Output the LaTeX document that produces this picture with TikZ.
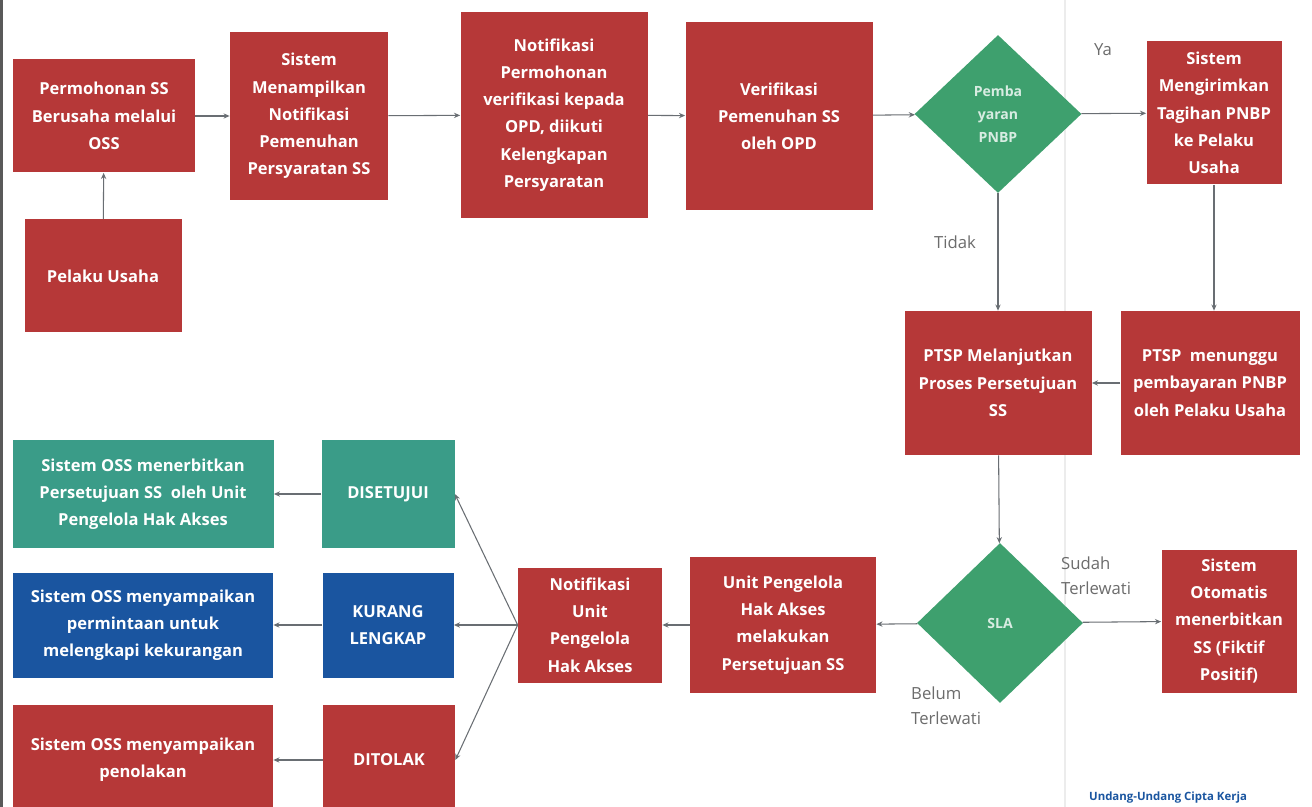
\documentclass[tikz,border=0pt]{standalone}
\usepackage{xcolor}
\usepackage{fontspec}
\setmainfont{Open Sans}
\usepackage{tikz}
\usetikzlibrary{shapes.geometric,arrows.meta}

\definecolor{boxred}{RGB}{182,56,56}
\definecolor{boxteal}{RGB}{58,156,136}
\definecolor{boxblue}{RGB}{26,85,160}
\definecolor{diagreen}{RGB}{62,160,110}
\definecolor{linegray}{RGB}{105,110,115}

\begin{document}
\begin{tikzpicture}
      [ x=0.02cm, y=-0.02cm,
        box/.style={rectangle, fill=boxred, text=white, align=center,
                    font=\fontsize{9.4}{15.5}\selectfont\bfseries, inner sep=1pt},
        tealbox/.style={box, fill=boxteal},
        bluebox/.style={box, fill=boxblue},
        decision/.style={diamond, fill=diagreen, text=white!80!diagreen, align=center,
                    font=\fontsize{8}{13}\selectfont\bfseries, inner sep=0pt},
        lbl/.style={text=gray!85!black, align=left, font=\fontsize{9.5}{14}\selectfont},
        every edge/.style={draw=linegray, line width=0.6pt},
        >={Stealth[length=3.5pt,width=3pt]}
      ]
      \useasboundingbox (0,0) rectangle (1312,807);
      \fill[white] (0,0) rectangle (1312,807);
      \draw[gray!15, line width=1pt] (1065,0) -- (1065,807);
      \draw[gray!70!black, line width=2pt] (1,0) -- (1,807);

      % top row
      \node[box, minimum width=182*0.02cm, minimum height=113*0.02cm] (perm)     at (104,116)  {Permohonan SS\\Berusaha melalui\\OSS};
      \node[box, minimum width=157*0.02cm, minimum height=113*0.02cm] (pelaku)   at (103,276)  {Pelaku Usaha};
      \node[box, minimum width=158*0.02cm, minimum height=168*0.02cm] (tampil)   at (309,116)  {Sistem\\Menampilkan\\Notifikasi\\Pemenuhan\\Persyaratan SS};
      \node[box, minimum width=187*0.02cm, minimum height=206*0.02cm] (notif)    at (554,115)  {Notifikasi\\Permohonan\\verifikasi kepada\\OPD, diikuti\\Kelengkapan\\Persyaratan};
      \node[box, minimum width=187*0.02cm, minimum height=188*0.02cm] (verif)    at (779,116)  {Verifikasi\\Pemenuhan SS\\oleh OPD};
      \node[decision, minimum width=167*0.02cm, minimum height=158*0.02cm] (bayar) at (998,114) {Pemba\\yaran\\PNBP};
      \node[box, minimum width=135*0.02cm, minimum height=143*0.02cm] (tagihan)  at (1214,113) {Sistem\\Mengirimkan\\Tagihan PNBP\\ke Pelaku\\Usaha};

      % middle row
      \node[box, minimum width=187*0.02cm, minimum height=144*0.02cm] (lanjut)   at (998,383)  {PTSP Melanjutkan\\Proses Persetujuan\\SS};
      \node[box, minimum width=179*0.02cm, minimum height=144*0.02cm] (tunggu)   at (1210,383) {PTSP\ \ menunggu\\pembayaran PNBP\\oleh Pelaku Usaha};

      % bottom rows
      \node[decision, minimum width=166*0.02cm, minimum height=160*0.02cm] (sla) at (1000,623) {SLA};
      \node[box, minimum width=135*0.02cm, minimum height=143*0.02cm] (otomatis) at (1229,621) {Sistem\\Otomatis\\menerbitkan\\SS (Fiktif\\Positif)};
      \node[box, minimum width=186*0.02cm, minimum height=136*0.02cm] (unit)     at (783,625)  {Unit Pengelola\\Hak Akses\\melakukan\\Persetujuan SS};
      \node[box, minimum width=144*0.02cm, minimum height=115*0.02cm] (notifunit) at (590,625) {Notifikasi\\Unit\\Pengelola\\Hak Akses};

      \node[tealbox, minimum width=133*0.02cm, minimum height=108*0.02cm] (setuju) at (388,494) {DISETUJUI};
      \node[bluebox, minimum width=131*0.02cm, minimum height=105*0.02cm] (kurang) at (388,625) {KURANG\\LENGKAP};
      \node[box, minimum width=132*0.02cm, minimum height=110*0.02cm]     (tolak)  at (389,760) {DITOLAK};

      \node[tealbox, minimum width=261*0.02cm, minimum height=108*0.02cm] (terbit)    at (143,494) {Sistem OSS menerbitkan\\Persetujuan SS\ \ oleh Unit\\Pengelola Hak Akses};
      \node[bluebox, minimum width=260*0.02cm, minimum height=105*0.02cm] (minta)     at (143,625) {Sistem OSS menyampaikan\\permintaan untuk\\melengkapi kekurangan};
      \node[box, minimum width=260*0.02cm, minimum height=110*0.02cm]     (penolakan) at (143,760) {Sistem OSS menyampaikan\\penolakan};

      % labels
      \node[lbl] (ya)    at (1103,50)  {Ya};
      \node[lbl] (tidak) at (955,242)  {Tidak};
      \node[lbl, anchor=west] (sudah) at (1055,576) {Sudah\\Terlewati};
      \node[lbl, anchor=west] (belum) at (905,706)  {Belum\\Terlewati};
      \node[text=boxblue, font=\fontsize{6.5}{8}\selectfont\bfseries] (uu) at (1168,798) {Undang-Undang Cipta Kerja};

      \path[->] (pelaku)  edge (perm)
                (perm)    edge (tampil)
                (tampil)  edge (notif)
                (notif)   edge (verif)
                (verif)   edge (bayar)
                (bayar)   edge (tagihan)
                (bayar)   edge (lanjut)
                (tagihan.south) edge (tagihan.south |- tunggu.north)
                (tunggu)  edge (lanjut)
                (lanjut)  edge (sla)
                (sla)     edge (otomatis)
                (sla)     edge (unit)
                (unit)    edge (notifunit)
                (notifunit.west) edge (setuju.east)
                (notifunit.west) edge (kurang.east)
                (notifunit.west) edge (tolak.east)
                (setuju)  edge (terbit)
                (kurang)  edge (minta)
                (tolak)   edge (penolakan);
    \end{tikzpicture}
\end{document}
